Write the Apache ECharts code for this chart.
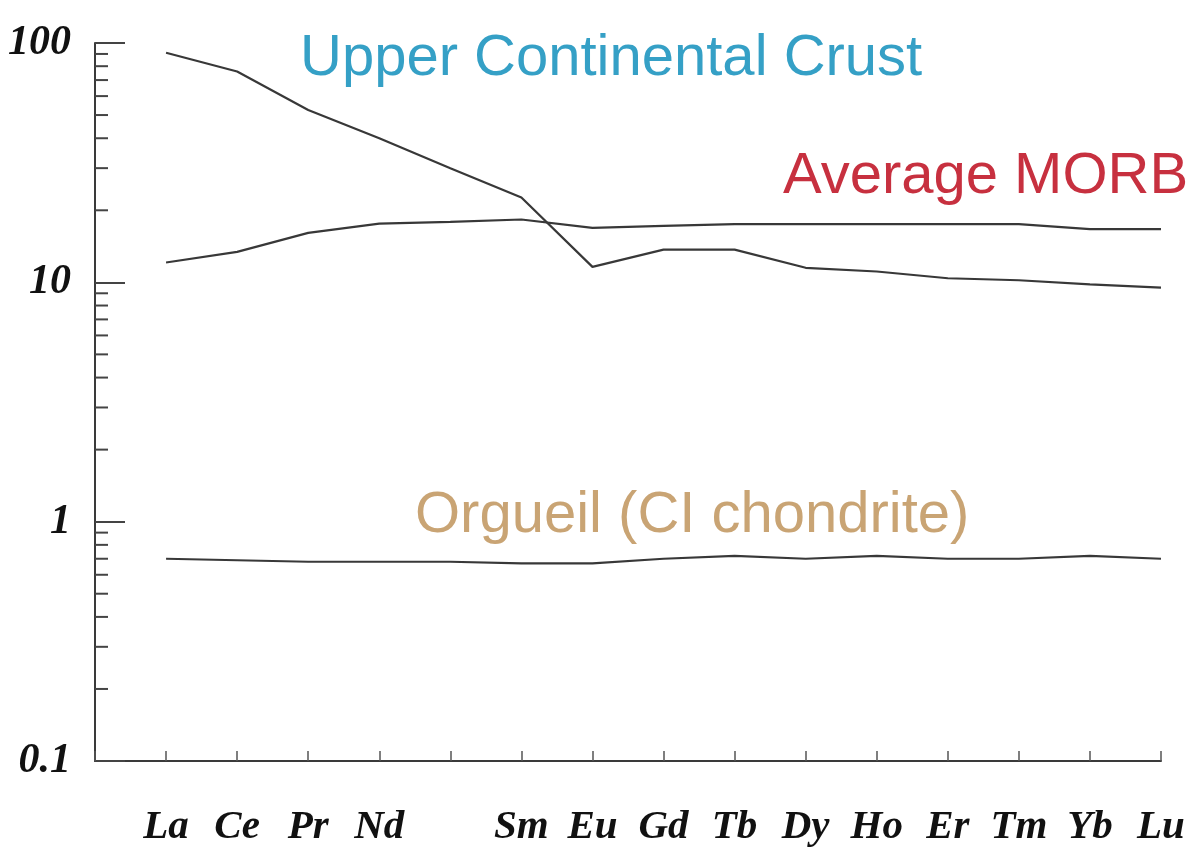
<!DOCTYPE html>
<html>
<head>
<meta charset="utf-8">
<script src="https://cdn.jsdelivr.net/npm/echarts@6/dist/echarts.min.js"></script>
<style>
  html, body { margin: 0; padding: 0; background: #fff; }
  #chart { width: 1201px; height: 848px; }
</style>
</head>
<body>
<div id="chart"></div>
<script>
// REE elements (Pm has no label in the figure)
const elements = ['La', 'Ce', 'Pr', 'Nd', '', 'Sm', 'Eu', 'Gd', 'Tb', 'Dy', 'Ho', 'Er', 'Tm', 'Yb', 'Lu']
// upper continental crust
const uccData = [91, 76, 52.5, 40, 30, 22.6, 11.6, 13.7, 13.7, 11.5, 11.1, 10.4, 10.2, 9.8, 9.5]
// average MORB
const morbData = [12.1, 13.4, 16.1, 17.6, 17.9, 18.3, 16.9, 17.2, 17.5, 17.5, 17.5, 17.5, 17.5, 16.7, 16.7]
// Orgueil CI chondrite
const orgueilData = [0.70, 0.69, 0.68, 0.68, 0.68, 0.67, 0.67, 0.70, 0.72, 0.70, 0.72, 0.70, 0.70, 0.72, 0.70]
// y axis
const yTickLabels = ['0.1', '1', '10', '100']
// minor ticks of the log axis (2..9 of each decade)
const minorTickValues = [0.2, 0.3, 0.4, 0.5, 0.6, 0.7, 0.8, 0.9, 2, 3, 4, 5, 6, 7, 8, 9, 20, 30, 40, 50, 60, 70, 80, 90]

const chart = echarts.init(document.getElementById('chart'))

// first slot is empty so La sits one step right of the y axis
const categories = [''].concat(elements)
const pad = (arr) => [null].concat(arr)

const lineStyle = { color: '#383838', width: 2.2 }
const serifFont = '"Liberation Serif", "DejaVu Serif", serif'
const sansFont = '"Liberation Sans", Arial, sans-serif'

const option = {
  animation: false,
  backgroundColor: '#fff',
  grid: { left: 95, right: 40, top: 43, bottom: 86 },
  xAxis: {
    type: 'category',
    data: categories,
    boundaryGap: false,
    axisLine: { lineStyle: { color: '#3a3a3a', width: 2 } },
    axisTick: { inside: true, length: 10, interval: 0, lineStyle: { color: '#555', width: 1.5 } },
    axisLabel: {
      interval: 0,
      margin: 46,
      color: '#111',
      fontFamily: serifFont,
      fontStyle: 'italic',
      fontWeight: 'bold',
      fontSize: 41
    },
    splitLine: { show: false }
  },
  yAxis: {
    type: 'log',
    logBase: 10,
    min: 0.1,
    max: 100,
    axisLine: { show: true, lineStyle: { color: '#3a3a3a', width: 2 } },
    axisTick: { show: true, inside: true, length: 30, lineStyle: { color: '#444', width: 2 } },
    axisLabel: {
      margin: 24,
      color: '#111',
      fontFamily: serifFont,
      fontStyle: 'italic',
      fontWeight: 'bold',
      fontSize: 42,
      formatter: (v) => {
        const s = yTickLabels.find((t) => Math.abs(parseFloat(t) - v) < 1e-9)
        return s || ''
      }
    },
    splitLine: { show: false }
  },
  graphic: [
    {
      type: 'text',
      style: {
        x: 300, y: 59, text: 'Upper Continental Crust',
        font: '58px ' + sansFont, fill: '#35a0c6', verticalAlign: 'middle'
      }
    },
    {
      type: 'text',
      style: {
        x: 783, y: 177, text: 'Average MORB',
        font: '58px ' + sansFont, fill: '#c7303f', verticalAlign: 'middle'
      }
    },
    {
      type: 'text',
      style: {
        x: 415, y: 516, text: 'Orgueil (CI chondrite)',
        font: '58px ' + sansFont, fill: '#c9a474', verticalAlign: 'middle'
      }
    }
  ],
  series: [
    {
      name: 'Upper Continental Crust',
      type: 'line',
      data: pad(uccData),
      showSymbol: false,
      lineStyle: lineStyle
    },
    {
      name: 'Average MORB',
      type: 'line',
      data: pad(morbData),
      showSymbol: false,
      lineStyle: lineStyle
    },
    {
      name: 'Orgueil (CI chondrite)',
      type: 'line',
      data: pad(orgueilData),
      showSymbol: false,
      lineStyle: lineStyle
    },
    {
      // minor ticks, placed through the log scale
      type: 'custom',
      silent: true,
      clip: false,
      data: minorTickValues.map((v) => [0, v]),
      renderItem: (params, api) => {
        const p = api.coord([api.value(0), api.value(1)])
        return {
          type: 'line',
          shape: { x1: p[0], y1: p[1], x2: p[0] + 13, y2: p[1] },
          style: { stroke: '#444', lineWidth: 2 }
        }
      }
    }
  ]
}

chart.setOption(option)
</script>
</body>
</html>
